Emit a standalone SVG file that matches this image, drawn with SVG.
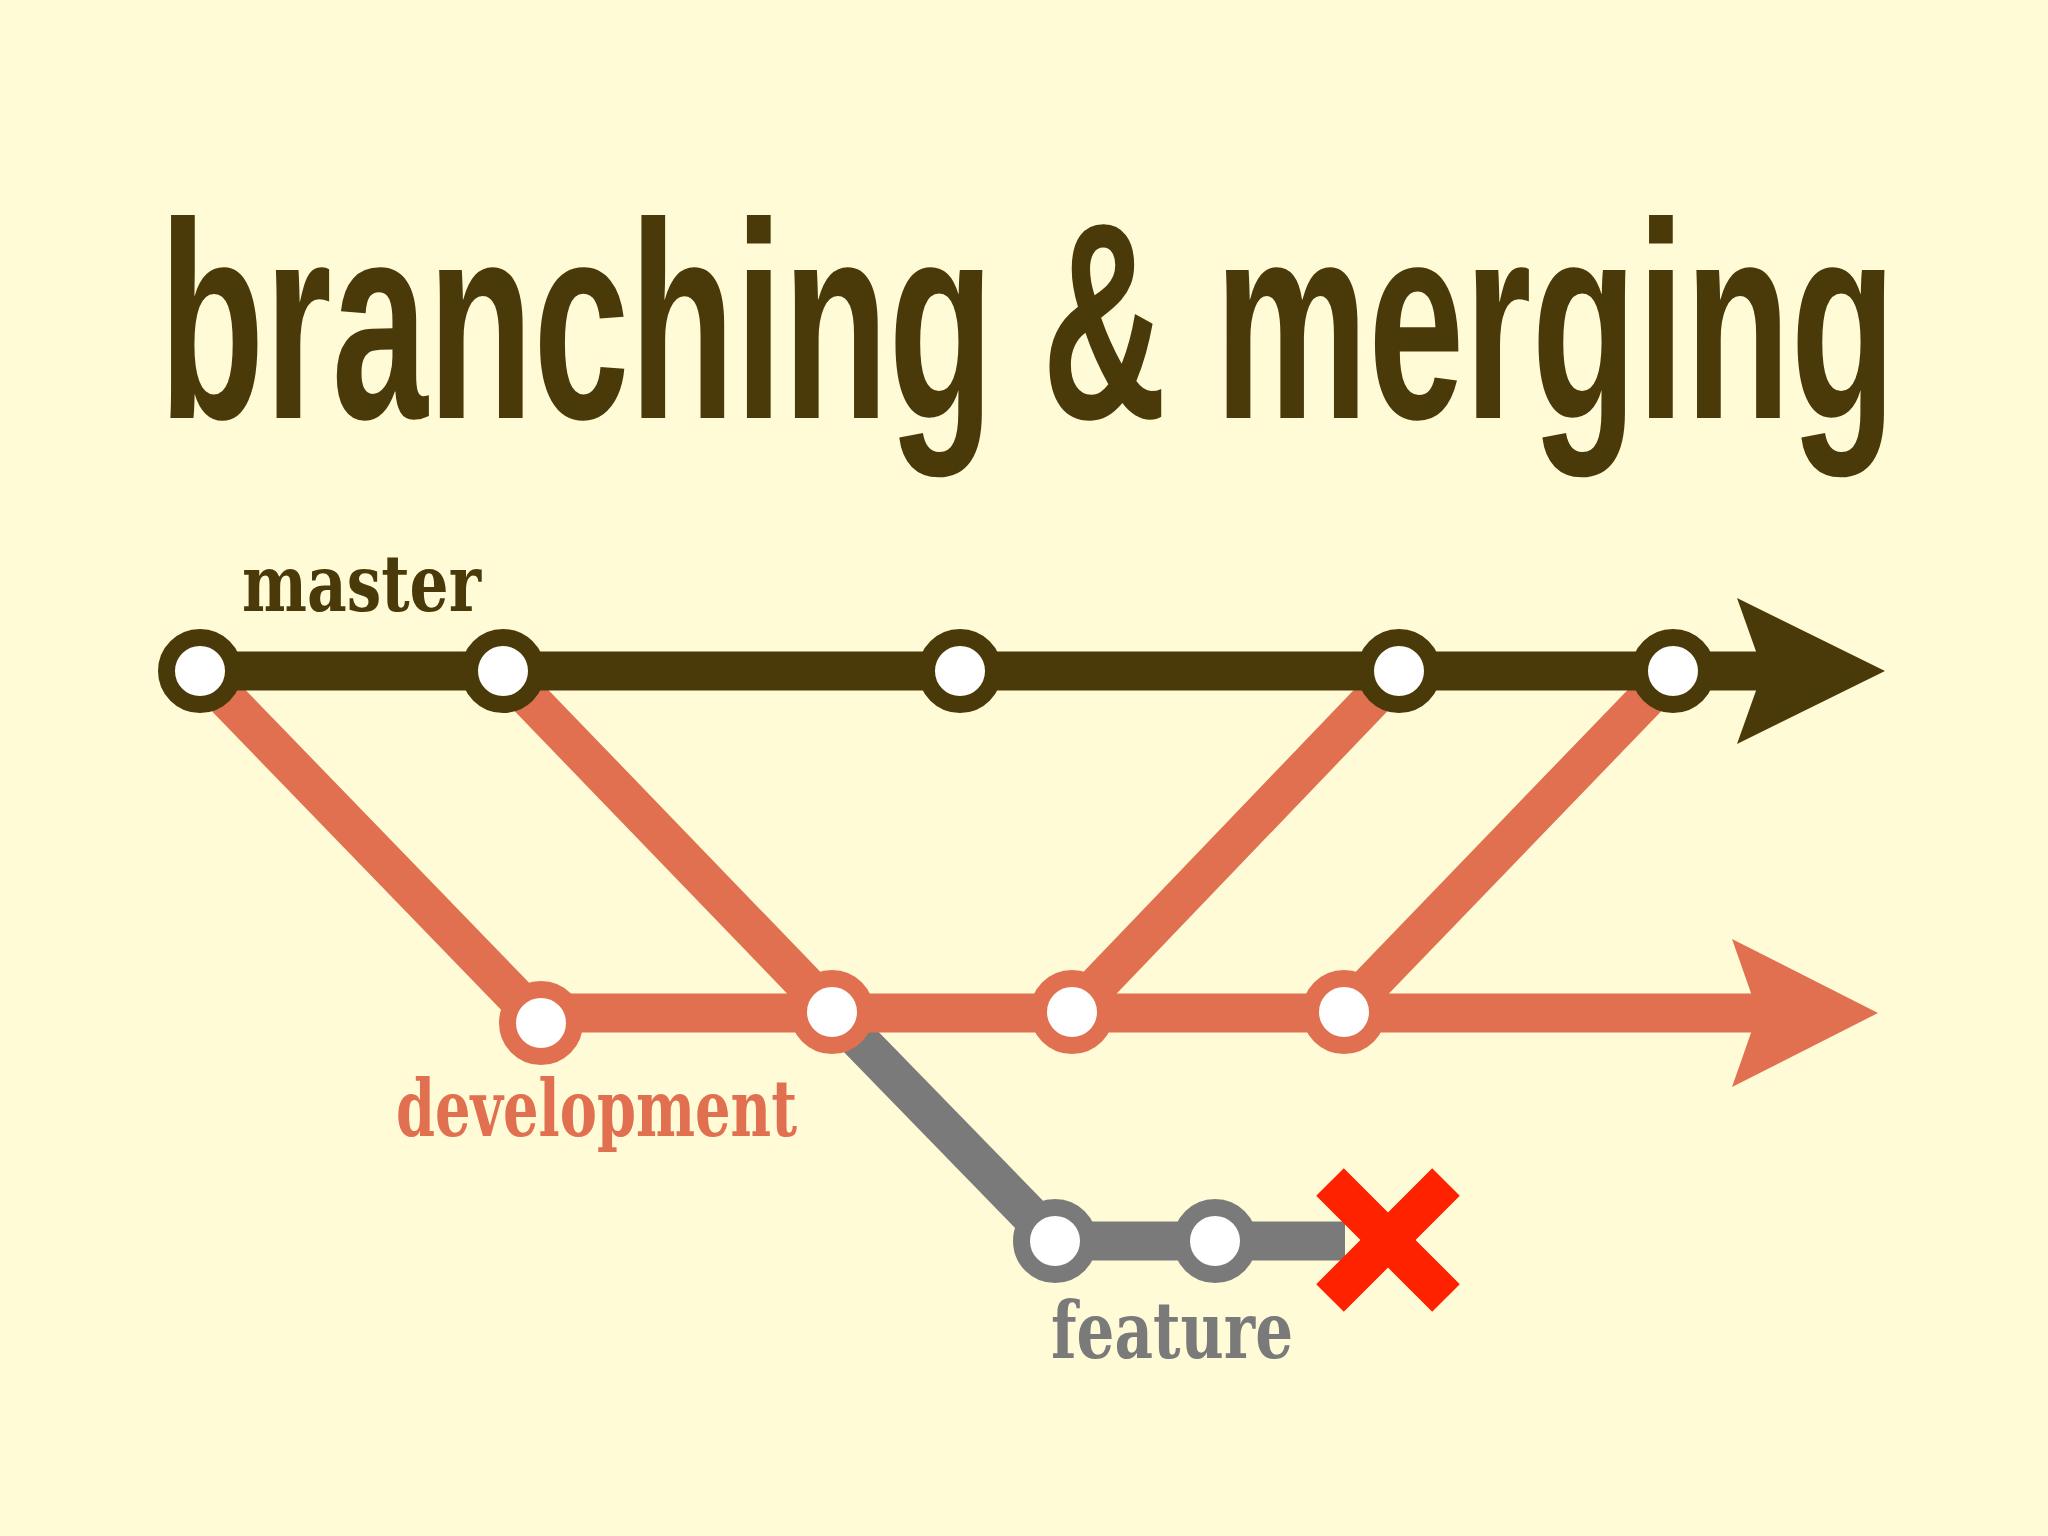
<svg xmlns="http://www.w3.org/2000/svg" width="2048" height="1536" viewBox="0 0 2048 1536">
<style>
.m{stroke:#4A3A0A;fill:none;stroke-width:39}
.d{stroke:#E07050;fill:none;stroke-width:39}
.f{stroke:#7A7A7A;fill:none;stroke-width:39}
.nm{fill:#fff;stroke:#4A3A0A;stroke-width:17}
.nd{fill:#fff;stroke:#E07050;stroke-width:17}
.nf{fill:#fff;stroke:#7A7A7A;stroke-width:17}
.lbl{font-family:"DejaVu Serif",serif;font-weight:bold;font-size:78px}
</style>
<rect width="2048" height="1536" fill="#FFFBD6"/>
<text x="159" y="418" font-family="Liberation Sans, sans-serif" font-weight="bold" font-size="280" fill="#4A3A0A" textLength="1737" lengthAdjust="spacingAndGlyphs">branching &amp; merging</text>
<g id="connectors">
<path class="d" d="M200,671 L541,1023 M503,671 L832,1012 M1072,1012 L1399,671 M1344,1012 L1673,671"/>
<path class="f" d="M832,1012 L1055,1241 L1345,1241"/>
<path class="d" d="M541,1013 L1770,1013"/>
<polygon points="1732,939 1878,1013 1732,1087 1758,1013" fill="#E07050"/>
<path class="m" d="M200,671 L1775,671"/>
<polygon points="1737,598 1885,671 1737,744 1763,671" fill="#4A3A0A"/>
</g>
<g id="master-nodes">
<circle class="nm" cx="200" cy="671" r="33.5"/>
<circle class="nm" cx="503" cy="671" r="33.5"/>
<circle class="nm" cx="960" cy="671" r="33.5"/>
<circle class="nm" cx="1399" cy="671" r="33.5"/>
<circle class="nm" cx="1673" cy="671" r="33.5"/>
</g>
<g id="dev-nodes">
<circle class="nd" cx="541" cy="1023" r="33.5"/>
<circle class="nd" cx="832" cy="1012" r="33.5"/>
<circle class="nd" cx="1072" cy="1012" r="33.5"/>
<circle class="nd" cx="1344" cy="1012" r="33.5"/>
</g>
<g id="feature-nodes">
<circle class="nf" cx="1055" cy="1241" r="33.5"/>
<circle class="nf" cx="1215" cy="1241" r="33.5"/>
</g>
<g id="delete-mark">
<path d="M1330,1182 L1446,1298 M1446,1182 L1330,1298" stroke="#FF2200" stroke-width="39"/>
</g>
<g id="labels">
<text class="lbl" x="242" y="611" fill="#4A3A0A" textLength="239" lengthAdjust="spacingAndGlyphs">master</text>
<text class="lbl" x="396" y="1136" fill="#E07050" textLength="401" lengthAdjust="spacingAndGlyphs">development</text>
<text class="lbl" x="1051" y="1358" fill="#7A7A7A" textLength="242" lengthAdjust="spacingAndGlyphs">feature</text>
</g>
</svg>
